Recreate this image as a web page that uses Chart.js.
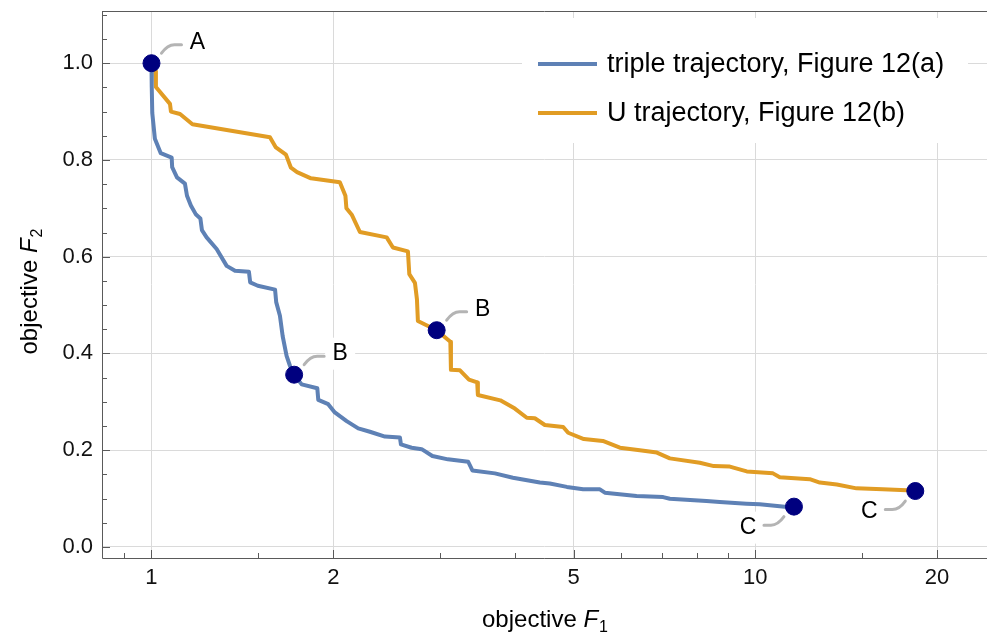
<!DOCTYPE html>
<html>
<head>
<meta charset="utf-8">
<script src="https://cdn.jsdelivr.net/npm/chart.js@4.4.1/dist/chart.umd.min.js"></script>
<style>
  body { margin: 0; background: #fff; }
  #wrap { position: relative; width: 987px; height: 634px; }
</style>
</head>
<body>
<div id="wrap"><canvas id="chartFrente"></canvas></div>
<script>
// trayectoria triple, Figura 12(a)
const blueF1 = [1, 1.001, 1.003, 1.013, 1.036, 1.080, 1.082, 1.102, 1.136, 1.145, 1.162, 1.185, 1.205, 1.212, 1.234, 1.282, 1.332, 1.375, 1.450, 1.457, 1.500, 1.602, 1.609, 1.632, 1.649, 1.674, 1.696, 1.723, 1.773, 1.882, 1.889, 1.962, 2.012, 2.105, 2.200, 2.300, 2.436, 2.579, 2.589, 2.697, 2.802, 2.919, 3.097, 3.346, 3.400, 3.705, 3.968, 4.398, 4.568, 4.875, 5.187, 5.529, 5.635, 6.359, 7.038, 7.219, 8.302, 8.733, 9.670, 10.17, 11.19, 11.59];
const blueF2 = [1.0, 0.951, 0.897, 0.844, 0.814, 0.805, 0.785, 0.764, 0.751, 0.726, 0.706, 0.687, 0.679, 0.655, 0.640, 0.616, 0.581, 0.571, 0.569, 0.547, 0.540, 0.532, 0.506, 0.478, 0.436, 0.395, 0.374, 0.356, 0.336, 0.328, 0.304, 0.295, 0.278, 0.260, 0.245, 0.238, 0.228, 0.226, 0.212, 0.205, 0.202, 0.188, 0.181, 0.176, 0.158, 0.152, 0.143, 0.133, 0.131, 0.124, 0.119, 0.119, 0.112, 0.105, 0.103, 0.0994, 0.0948, 0.0928, 0.0894, 0.088, 0.0832, 0.0832];

// trayectoria U, Figura 12(b)
const orangeF1 = [1, 1.015, 1.017, 1.073, 1.077, 1.115, 1.169, 1.571, 1.607, 1.670, 1.702, 1.742, 1.837, 2.051, 2.095, 2.103, 2.148, 2.214, 2.452, 2.511, 2.659, 2.673, 2.731, 2.752, 2.762, 2.967, 3.126, 3.133, 3.243, 3.356, 3.463, 3.472, 3.782, 3.998, 4.184, 4.314, 4.482, 4.807, 4.899, 5.201, 5.592, 5.968, 6.438, 6.871, 7.219, 8.094, 8.537, 9.075, 9.682, 10.70, 10.98, 12.31, 12.79, 13.65, 14.71, 16.26, 17.80, 18.41];
const orangeF2 = [1.0, 0.984, 0.951, 0.916, 0.900, 0.895, 0.874, 0.847, 0.826, 0.811, 0.784, 0.775, 0.762, 0.754, 0.726, 0.700, 0.686, 0.651, 0.640, 0.619, 0.611, 0.564, 0.546, 0.512, 0.467, 0.448, 0.424, 0.366, 0.365, 0.346, 0.340, 0.314, 0.303, 0.286, 0.267, 0.266, 0.252, 0.248, 0.236, 0.223, 0.219, 0.205, 0.200, 0.195, 0.183, 0.174, 0.167, 0.166, 0.156, 0.152, 0.144, 0.140, 0.133, 0.129, 0.121, 0.119, 0.117, 0.1155];

// puntos marcados A, B, C
const markF1 = [1, 1.723, 2.967, 11.59, 18.41];
const markF2 = [1.0, 0.356, 0.448, 0.0832, 0.1155];
const markLabels = ['A', 'B', 'B', 'C', 'C'];

const seriesNames = ['triple trajectory, Figure 12(a)', 'U trajectory, Figure 12(b)'];

// ticks de los ejes
const xMajor = [1, 2, 5, 10, 20];
const xTicks = [0.9, 1, 1.5, 2, 3, 4, 5, 6, 7, 8, 9, 10, 15, 20];
const yMajor = [0, 0.2, 0.4, 0.6, 0.8, 1.0];
const yTicks = [0, 0.05, 0.1, 0.15, 0.2, 0.25, 0.3, 0.35, 0.4, 0.45, 0.5, 0.55, 0.6, 0.65, 0.7, 0.75, 0.8, 0.85, 0.9, 0.95, 1.0, 1.05, 1.1];

const BLUE = '#5E81B5';
const ORANGE = '#E19C24';
const FONT = '"Liberation Sans", Arial, sans-serif';

const toPoints = (xs, ys) => xs.map((v, i) => ({ x: v, y: ys[i] }));
const isMajorY = v => yMajor.some(m => Math.abs(m - v) < 1e-9);
const noPadding = s => { s.paddingTop = 0; s.paddingBottom = 0; s.paddingLeft = 0; s.paddingRight = 0; };

// marco, ticks hacia adentro y titulos de ejes
const framePlugin = {
    id: 'framePlugin',
    afterDraw(chart) {
        const { ctx, chartArea: a, scales: { x, y } } = chart;
        ctx.save();
        ctx.strokeStyle = '#5a5a5a';
        ctx.lineWidth = 1;
        ctx.beginPath();
        ctx.moveTo(a.left + 0.5, a.top + 0.5);
        ctx.lineTo(a.left + 0.5, a.bottom + 0.5);
        ctx.lineTo(a.right, a.bottom + 0.5);
        ctx.moveTo(a.left, a.top + 0.5);
        ctx.lineTo(a.right, a.top + 0.5);
        xTicks.forEach(v => {
            const px = Math.round(x.getPixelForValue(v)) + 0.5;
            const len = xMajor.includes(v) ? 8 : 5;
            ctx.moveTo(px, a.bottom);
            ctx.lineTo(px, a.bottom - len);
        });
        yTicks.forEach(v => {
            const py = Math.round(y.getPixelForValue(v)) + 0.5;
            const len = isMajorY(v) ? 8 : 5;
            ctx.moveTo(a.left, py);
            ctx.lineTo(a.left + len, py);
        });
        ctx.stroke();

        drawTitle(ctx, (a.left + a.right) / 2, 627, '1');
        ctx.translate(37, 292);
        ctx.rotate(-Math.PI / 2);
        drawTitle(ctx, 0, 0, '2');
        ctx.restore();
    }
};

function drawTitle(ctx, cx, base, sub) {
    const main = 'objective ';
    ctx.fillStyle = '#000';
    ctx.textBaseline = 'alphabetic';
    ctx.textAlign = 'left';
    ctx.font = '24px ' + FONT;
    const w1 = ctx.measureText(main).width;
    ctx.font = 'italic 24px ' + FONT;
    const w2 = ctx.measureText('F').width;
    ctx.font = '16px ' + FONT;
    const w3 = ctx.measureText(sub).width;
    let x0 = cx - (w1 + w2 + w3) / 2;
    ctx.font = '24px ' + FONT;
    ctx.fillText(main, x0, base);
    ctx.font = 'italic 24px ' + FONT;
    ctx.fillText('F', x0 + w1, base);
    ctx.font = '16px ' + FONT;
    ctx.fillText(sub, x0 + w1 + w2 + 1, base + 5);
}

// etiquetas A/B/C con lineas guia y leyenda
const labelPlugin = {
    id: 'labelPlugin',
    afterDatasetsDraw(chart) {
        const { ctx, scales: { x, y } } = chart;
        ctx.save();
        markF1.forEach((v, i) => {
            const px = x.getPixelForValue(v);
            const py = y.getPixelForValue(markF2[i]);
            const s = markLabels[i] === 'C' ? -1 : 1;
            ctx.fillStyle = '#fff';
            ctx.fillRect(px + 46 * s - 15, py - 21 * s - 16, 30, 32);
            ctx.strokeStyle = '#b4b4b4';
            ctx.lineWidth = 3;
            ctx.lineCap = 'round';
            ctx.beginPath();
            ctx.moveTo(px + 10 * s, py - 10 * s);
            ctx.quadraticCurveTo(px + 16 * s, py - 18.5 * s, px + 23 * s, py - 18.5 * s);
            ctx.lineTo(px + 30 * s, py - 18.5 * s);
            ctx.stroke();
            ctx.fillStyle = '#000';
            ctx.font = '23px ' + FONT;
            ctx.textAlign = 'center';
            ctx.textBaseline = 'middle';
            ctx.fillText(markLabels[i], px + 46 * s, py - 21 * s);
        });

        // leyenda
        ctx.fillStyle = '#fff';
        ctx.fillRect(522, 18, 446, 125);
        [BLUE, ORANGE].forEach((c, i) => {
            const ly = 64 + i * 49;
            ctx.strokeStyle = c;
            ctx.lineWidth = 4;
            ctx.lineCap = 'butt';
            ctx.beginPath();
            ctx.moveTo(538, ly);
            ctx.lineTo(597, ly);
            ctx.stroke();
            ctx.fillStyle = '#000';
            ctx.font = '27px ' + FONT;
            ctx.textAlign = 'left';
            ctx.textBaseline = 'middle';
            ctx.fillText(seriesNames[i], 607, ly + 1);
        });
        ctx.restore();
    }
};

const ctxFrente = document.getElementById('chartFrente').getContext('2d');
const chartFrente = new Chart(ctxFrente, {
    type: 'scatter',
    data: {
        datasets: [
            {
                label: 'puntos',
                data: toPoints(markF1, markF2),
                backgroundColor: '#00007F',
                borderColor: '#00007F',
                pointRadius: 8.5,
                order: 0
            },
            {
                label: seriesNames[0],
                data: toPoints(blueF1, blueF2),
                showLine: true,
                borderColor: BLUE,
                borderWidth: 4,
                borderJoinStyle: 'round',
                pointRadius: 0,
                tension: 0,
                order: 1
            },
            {
                label: seriesNames[1],
                data: toPoints(orangeF1, orangeF2),
                showLine: true,
                borderColor: ORANGE,
                borderWidth: 4,
                borderJoinStyle: 'round',
                pointRadius: 0,
                tension: 0,
                order: 2
            }
        ]
    },
    options: {
        responsive: true,
        maintainAspectRatio: false,
        animation: false,
        layout: { autoPadding: false, padding: { top: 11, right: 0, left: 0, bottom: 0 } },
        plugins: { legend: { display: false }, tooltip: { enabled: false } },
        scales: {
            x: {
                type: 'logarithmic',
                min: 0.828,
                max: 24.2,
                afterFit: s => { s.height = 76; noPadding(s); },
                afterBuildTicks: s => { s.ticks = xTicks.map(v => ({ value: v })); },
                border: { display: false },
                grid: {
                    drawTicks: false,
                    color: c => (c.tick && xMajor.includes(c.tick.value)) ? '#dadada' : 'rgba(0,0,0,0)'
                },
                ticks: {
                    autoSkip: false,
                    maxRotation: 0,
                    padding: 7,
                    color: '#111',
                    font: { family: FONT, size: 22 },
                    callback: v => xMajor.includes(v) ? String(v) : null
                }
            },
            y: {
                type: 'linear',
                min: -0.023,
                max: 1.108,
                afterFit: s => { s.width = 102; noPadding(s); },
                afterBuildTicks: s => { s.ticks = yTicks.map(v => ({ value: v })); },
                border: { display: false },
                grid: {
                    drawTicks: false,
                    color: c => (c.tick && isMajorY(c.tick.value)) ? '#dadada' : 'rgba(0,0,0,0)'
                },
                ticks: {
                    autoSkip: false,
                    padding: 9,
                    color: '#111',
                    font: { family: FONT, size: 22 },
                    callback: v => isMajorY(v) ? v.toFixed(1) : null
                }
            }
        }
    },
    plugins: [labelPlugin, framePlugin]
});
</script>
</body>
</html>
